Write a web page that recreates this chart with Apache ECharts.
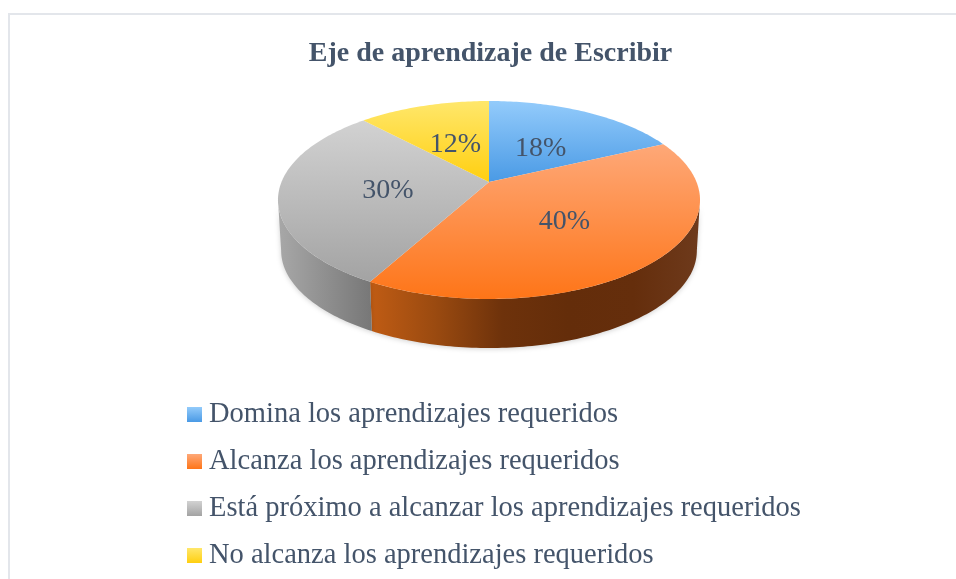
<!DOCTYPE html>
<html><head><meta charset="utf-8">
<style>html,body{margin:0;padding:0;background:#fff}#c{width:956px;height:579px}</style>
<script src="https://cdn.jsdelivr.net/npm/echarts@6/dist/echarts.min.js"></script>
</head><body><div id="c"></div>
<script>
const titleText = 'Eje de aprendizaje de Escribir';
const categories = ['Domina los aprendizajes requeridos','Alcanza los aprendizajes requeridos','Está próximo a alcanzar los aprendizajes requeridos','No alcanza los aprendizajes requeridos'];
const values = [18, 40, 30, 12];
const topColors = [['#93CBFB','#4A9AE5'],['#FEA878','#FE7518'],['#D2D2D2','#A3A3A3'],['#FFE76B','#FFCF10']];
const sideColors = [null,['#C05C14','#9A4A10','#6E320B','#642D0A','#652E0C','#6E3A1C'],['#A8A8A8','#777777'],null];

const CX=489, CY=182, A=207.5, B=95.7, K=0.1818, DEPTH=50.8, SHRINK=0.985;
const total = values.reduce((a,b)=>a+b,0);
function project(deg, r, scale, dy){
  const t=deg*Math.PI/180, u=r*Math.sin(t), v=-r*Math.cos(t), w=1-K*v;
  return [CX+scale*A*u/w, CY+dy+scale*B*v/w];
}
function arc(a0,a1,scale,dy){
  const n=Math.max(2,Math.ceil(Math.abs(a1-a0))), p=[];
  for(let i=0;i<=n;i++) p.push(project(a0+(a1-a0)*i/n,1,scale,dy));
  return p;
}
function grad(cols,x2,y2){
  return {type:'linear',x:0,y:0,x2,y2,colorStops:cols.map((c,i)=>({offset:i/(cols.length-1),color:c}))};
}
const tanA=Math.acos(-K)*180/Math.PI, tanB=360-tanA;
function renderSlice(idx){
  return function(params,api){
    const val=api.value(0);
    let before=0; for(let i=0;i<idx;i++) before+=values[i];
    const a0=before/total*360, a1=(before+val)/total*360, children=[];
    const s0=Math.max(a0,tanA), s1=Math.min(a1,tanB);
    if(s1>s0 && sideColors[idx]){
      const pts=arc(s0,s1,1,0).concat(arc(s0,s1,SHRINK,DEPTH).reverse());
      children.push({type:'polygon',shape:{points:pts},style:{fill:grad(sideColors[idx],1,0),shadowBlur:5,shadowColor:'rgba(0,0,0,0.18)',shadowOffsetY:1}});
    }
    const pts=[[CX,CY]].concat(arc(a0,a1,1,0));
    children.push({type:'polygon',shape:{points:pts},style:{fill:grad(topColors[idx],0,1)}});
    const m=project((a0+a1)/2,0.49,1,0);
    children.push({type:'text',z2:10,style:{x:m[0]+1,y:m[1]+3,text:val+'%',fill:'#44546A',font:'28px "Liberation Serif"',align:'center',verticalAlign:'middle'}});
    return {type:'group',children};
  };
}
const chart=echarts.init(document.getElementById('c'),null,{renderer:'canvas'});
chart.setOption({
  animation:false,
  backgroundColor:'#fff',
  title:{text:titleText,left:485.5,textAlign:'center',top:35,textStyle:{color:'#44546A',fontFamily:'Liberation Serif',fontWeight:'bold',fontSize:28}},
  legend:{orient:'vertical',left:182,top:395,height:230,itemWidth:15,itemHeight:15,itemGap:18,icon:'rect',selectedMode:false,
    data:categories,textStyle:{color:'#44546A',fontFamily:'Liberation Serif',fontSize:28.5,padding:[0,0,0,2],lineHeight:27}},
  graphic:[{type:'rect',silent:true,shape:{x:9,y:14,width:1000,height:700},style:{fill:'none',stroke:'#E3E6EB',lineWidth:2}}],
  series:categories.map((name,i)=>({
    type:'custom',name,coordinateSystem:'none',z:2,
    itemStyle:{color:grad(topColors[i],0,1)},
    renderItem:renderSlice(i),
    data:[[values[i]]],
    silent:true
  }))
});
</script></body></html>
